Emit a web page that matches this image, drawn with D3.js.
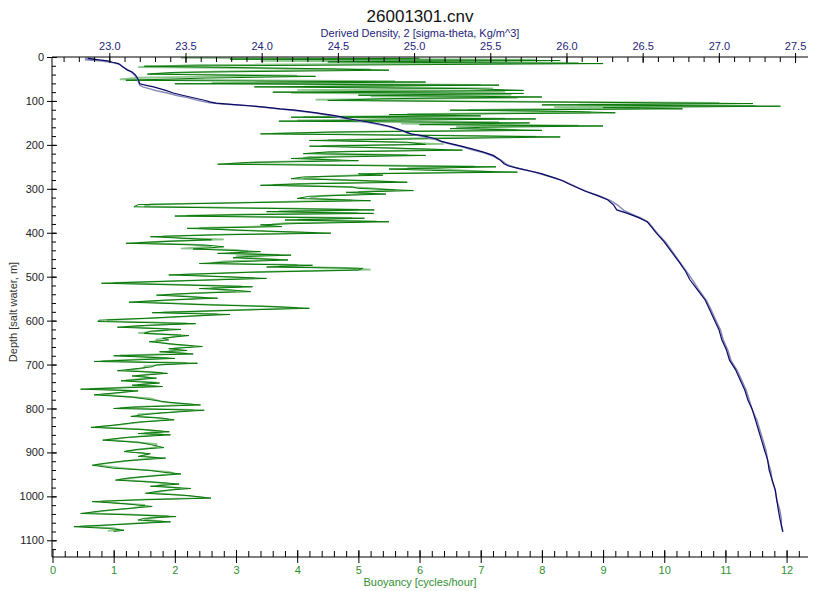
<!DOCTYPE html>
<html>
<head>
<meta charset="utf-8">
<script src="https://cdn.jsdelivr.net/npm/d3@7"></script>
<style>
  body { margin: 0; background: #fff; }
  svg { display: block; font-family: "Liberation Sans", Arial, sans-serif; }
</style>
</head>
<body>
<svg id="chart" width="813" height="591"></svg>
<script>
// ---- data: [depth m, value] ----
var buoyancyPrimary = [
  [3,6.0],[5,2.9],[8,8.3],[11,4.5],[15,9.0],[21,1.5],[27,4.5],[30,5.5],[35,2.0],[39,1.55],
  [44,4.3],[48,2.5],[53,1.2],[57,6.1],[61,2.0],[64,7.3],[68,3.3],[72,6.8],[76,7.7],[80,3.6],
  [83,7.7],[87,5.0],[91,8.0],[95,5.4],[99,4.5],[103,8.7],[106,11.45],[109,8.0],[112,11.9],[115,9.0],
  [118,10.3],[121,6.5],[124,8.5],[127,9.2],[131,5.5],[134,7.0],[137,3.9],[141,7.9],[146,3.7],[150,7.8],
  [154,6.0],[157,9.0],[160,7.0],[163,6.5],[167,8.0],[171,4.5],[175,3.4],[179,6.5],[182,8.3],[186,6.2],
  [190,4.2],[194,5.8],[199,6.1],[203,4.2],[207,5.5],[212,6.7],[216,4.5],[220,4.1],[224,6.1],[228,4.5],
  [231,3.9],[236,5.0],[240,3.2],[244,2.7],[250,7.25],[255,5.5],[258,6.2],[262,7.6],[266,5.0],[269,5.4],
  [273,4.1],[277,3.9],[281,5.0],[285,5.8],[289,4.0],[292,3.4],[296,4.9],[299,5.0],[304,5.9],[308,4.8],
  [312,5.45],[317,4.2],[322,4.0],[327,5.2],[332,3.0],[336,1.4],[341,1.33],[345,3.8],[348,5.26],[352,3.5],
  [356,5.25],[359,3.0],[362,2.0],[367,5.1],[371,3.8],[375,5.5],[379,4.0],[382,3.4],[386,3.75],[390,2.2],
  [395,3.2],[401,4.55],[405,2.6],[409,1.6],[413,2.2],[416,2.6],[420,1.8],[424,1.2],[428,2.5],[432,2.8],
  [437,2.3],[440,2.9],[443,3.4],[447,2.7],[451,3.9],[454,3.2],[457,2.95],[462,3.85],[466,3.0],[470,2.4],
  [474,4.25],[478,3.5],[481,5.07],[485,5.0],[490,3.2],[496,1.9],[500,2.8],[504,3.5],[509,2.2],[515,0.8],
  [519,2.2],[523,3.27],[527,2.4],[530,2.9],[534,3.24],[538,2.2],[542,1.7],[549,2.7],[553,1.9],[558,1.25],
  [564,2.55],[568,3.6],[572,4.2],[577,2.8],[582,1.63],[586,2.9],[590,2.2],[595,1.5],[599,0.76],[602,0.74],
  [607,2.34],[611,1.5],[615,1.06],[620,2.1],[624,1.6],[629,1.5],[634,2.23],[640,1.8],[644,1.9],[648,1.58],
  [654,2.0],[659,2.45],[664,1.9],[668,2.2],[671,1.75],[676,2.3],[680,1.0],[686,2.0],[693,0.68],[697,2.37],
  [701,1.7],[705,1.63],[709,1.4],[714,1.06],[717,1.6],[720,1.88],[726,1.3],[731,1.7],[737,1.12],[742,1.75],
  [747,1.3],[750,1.8],[756,0.46],[760,1.4],[765,1.0],[769,0.68],[774,1.3],[778,1.5],[786,1.9],[792,2.42],
  [797,1.3],[800,1.0],[804,2.48],[810,1.8],[814,1.5],[818,1.28],[822,1.8],[826,1.99],[831,1.4],[838,1.0],
  [843,0.63],[848,1.5],[853,1.91],[857,1.4],[860,1.93],[866,1.2],[872,0.82],[877,1.4],[882,1.6],[889,1.82],
  [893,1.4],[898,1.17],[903,1.6],[909,1.4],[913,1.85],[919,1.2],[924,0.9],[929,0.65],[936,1.0],[941,1.6],
  [945,1.8],[949,2.10],[955,1.5],[959,1.2],[963,1.03],[968,1.7],[972,2.07],[977,1.6],[982,2.26],[987,1.8],
  [993,1.52],[998,2.2],[1004,2.59],[1008,1.4],[1012,0.65],[1017,1.2],[1020,1.4],[1023,1.63],[1028,1.2],[1033,0.8],
  [1039,0.46],[1042,1.3],[1046,2.02],[1050,1.5],[1054,1.4],[1058,1.93],[1063,1.2],[1066,0.8],[1069,0.35],[1073,0.9],
  [1077,1.17],[1080,1.0]
];

var buoyancySecondary = [
  [2,2.1],[6,7.9],[9,3.4],[13,8.6],[18,2.4],[23,1.4],[28,5.2],[33,2.6],[38,1.6],[42,4.0],
  [47,1.4],[51,1.1],[55,5.6],[59,2.6],[63,7.0],[67,4.1],[71,7.2],[75,4.0],[79,7.4],[82,3.9],
  [86,7.5],[90,5.2],[93,7.6],[97,4.3],[101,6.8],[104,10.9],[108,8.6],[111,11.5],[114,8.2],[117,9.6],
  [120,6.8],[123,7.9],[126,8.8],[130,5.8],[133,6.6],[136,4.1],[140,7.4],[144,4.0],[148,7.3],[152,5.7],
  [156,8.6],[159,6.6],[162,6.8],[166,7.6],[170,4.8],[174,3.6],[178,6.1],[181,7.9],[185,5.9],[189,4.5],
  [193,5.4],[198,6.4],[202,4.4],[206,5.2],[211,6.4],[215,4.8],[219,4.3],[223,5.8],[227,4.2],[230,4.1],
  [235,4.7],[239,3.4],[243,2.9],[249,6.9],[253,5.8],[257,6.5],[261,7.2],[265,5.3],[268,5.1],[272,4.4],
  [276,4.1],[280,4.8],[284,5.6],[288,4.2],[291,3.6],[295,4.7],[298,5.2],[303,5.6],[307,5.0],[311,5.2],
  [316,4.4],[321,4.2],[326,4.9],[331,3.2],[335,1.6],[340,1.5],[344,3.5],[347,5.0],[351,3.7],[355,5.0],
  [358,3.2],[361,2.2],[366,4.9],[370,4.0],[374,5.3],[378,3.8],[381,3.6],[385,3.5],[389,2.4],[394,3.0],
  [400,4.3],[404,2.8],[408,1.8],[412,2.1],[415,2.8],[419,1.9],[423,1.4],[427,2.3],[431,2.6],[436,2.1],
  [439,3.0],[442,3.2],[446,2.9],[450,3.7],[453,3.0],[456,3.1],[461,3.7],[465,2.8],[469,2.6],[473,4.0],
  [477,3.7],[480,4.8],[484,5.2],[489,3.4],[495,2.1],[499,2.6],[503,3.3],[508,2.4],[514,1.0],[518,2.0],
  [522,3.1],[526,2.6],[529,2.7],[533,3.0],[537,2.4],[541,1.9],[548,2.5],[552,2.1],[557,1.4],[563,2.4],
  [567,3.4],[571,4.0],[576,3.0],[581,1.8],[585,2.7],[589,2.4],[594,1.7],[598,0.9],[601,0.9],[606,2.2],
  [610,1.7],[614,1.2],[619,1.9],[623,1.8],[628,1.4],[633,2.1],[639,1.9],[643,1.7],[647,1.7],[653,1.9],
  [658,2.3],[663,2.0],[667,2.0],[670,1.9],[675,2.2],[679,1.1],[685,1.9],[692,0.8],[696,2.2],[700,1.8],
  [704,1.5],[708,1.5],[713,1.2],[716,1.5],[719,1.8],[725,1.4],[730,1.6],[736,1.2],[741,1.7],[746,1.4],
  [749,1.7],[755,0.6],[759,1.3],[764,1.1],[768,0.8],[773,1.2],[777,1.6],[785,1.8],[791,2.3],[796,1.4],
  [799,1.1],[803,2.3],[809,1.9],[813,1.4],[817,1.4],[821,1.7],[825,1.9],[830,1.5],[837,1.1],[842,0.7],
  [847,1.4],[852,1.8],[856,1.5],[859,1.8],[865,1.3],[871,0.9],[876,1.3],[881,1.7],[888,1.7],[892,1.5],
  [897,1.2],[902,1.5],[908,1.5],[912,1.7],[918,1.3],[923,1.0],[928,0.7],[935,1.1],[940,1.5],[944,1.9],
  [948,2.0],[954,1.6],[958,1.3],[962,1.1],[967,1.6],[971,1.9],[976,1.7],[981,2.1],[986,1.9],[992,1.6],
  [997,2.1],[1003,2.5],[1007,1.5],[1011,0.8],[1016,1.1],[1019,1.5],[1022,1.5],[1027,1.3],[1032,0.9],[1038,0.6],
  [1041,1.2],[1045,1.9],[1049,1.6],[1053,1.5],[1057,1.8],[1062,1.3],[1065,0.9],[1068,0.45],[1072,1.0],[1076,1.1],
  [1079,0.9]
];

var densityPrimary = [
  [3,22.86],[6,22.92],[9,22.99],[12,23.02],[15,23.06],[23,23.09],[30,23.12],[34,23.15],[40,23.17],[45,23.18],
  [52,23.19],[61,23.20],[65,23.25],[68,23.29],[72,23.33],[76,23.37],[82,23.42],[87,23.48],[91,23.53],[95,23.58],
  [99,23.63],[102,23.66],[105,23.70],[108,23.80],[111,23.92],[114,24.02],[118,24.12],[121,24.22],[127,24.36],[133,24.47],
  [137,24.53],[140,24.56],[144,24.63],[148,24.70],[153,24.78],[159,24.85],[167,24.92],[175,24.98],[180,25.07],[186,25.14],
  [192,25.18],[197,25.24],[203,25.31],[209,25.38],[216,25.45],[224,25.52],[233,25.56],[243,25.59],[248,25.62],[254,25.69],
  [260,25.77],[266,25.84],[274,25.91],[281,25.97],[288,26.01],[296,26.06],[305,26.12],[315,26.20],[325,26.27],[337,26.31],
  [348,26.33],[356,26.40],[365,26.47],[375,26.53],[388,26.56],[401,26.59],[420,26.64],[439,26.68],[453,26.71],[467,26.74],
  [487,26.78],[507,26.81],[530,26.86],[553,26.91],[575,26.94],[598,26.97],[620,27.00],[644,27.02],[667,27.05],[690,27.07],
  [712,27.11],[735,27.14],[758,27.17],[780,27.19],[803,27.22],[826,27.24],[849,27.26],[872,27.28],[895,27.30],[917,27.32],
  [940,27.33],[963,27.35],[985,27.37],[1008,27.38],[1030,27.39],[1050,27.40],[1065,27.41],[1081,27.42]
];

var densitySecondary = [
  [2,22.84],[4,22.90],[6,22.84],[9,22.95],[13,23.03],[17,23.07],[25,23.10],[33,23.14],[40,23.16],[47,23.18],
  [55,23.19],[64,23.20],[68,23.22],[72,23.26],[77,23.31],[82,23.38],[88,23.45],[93,23.52],[97,23.56],[101,23.61],
  [104,23.66],[107,23.74],[110,23.87],[113,23.98],[117,24.09],[121,24.20],[127,24.34],[133,24.45],[139,24.53],[143,24.60],
  [148,24.68],[153,24.76],[159,24.84],[167,24.91],[175,24.97],[181,25.06],[187,25.13],[193,25.18],[199,25.25],[205,25.32],
  [211,25.38],[218,25.46],[226,25.52],[235,25.57],[245,25.61],[251,25.66],[257,25.73],[263,25.80],[269,25.86],[276,25.93],
  [283,25.99],[290,26.03],[298,26.08],[307,26.14],[317,26.22],[327,26.29],[338,26.34],[350,26.38],[358,26.43],[367,26.49],
  [377,26.54],[390,26.57],[403,26.60],[421,26.65],[440,26.69],[455,26.72],[470,26.75],[489,26.79],[509,26.83],[531,26.87],
  [555,26.92],[576,26.95],[599,26.98],[621,27.01],[645,27.03],[668,27.06],[691,27.08],[713,27.12],[736,27.15],[759,27.18],
  [781,27.20],[804,27.22],[827,27.25],[850,27.27],[873,27.29],[896,27.31],[918,27.32],[941,27.34],[964,27.35],[986,27.37],
  [1009,27.38],[1031,27.40],[1051,27.41],[1066,27.41],[1080,27.42]
];

var depthTicks = d3.range(0, 1101, 100);
var buoyancyTicks = d3.range(0, 13, 1);
var densityTicks = [23.0, 23.5, 24.0, 24.5, 25.0, 25.5, 26.0, 26.5, 27.0, 27.5];

(function(){
  // ---- layout ----
  var svg = d3.select("#chart");
  var mLeft = 52, mRight = 808, mTop = 57, mBottom = 557;

  var y = d3.scaleLinear().domain([0, 1138]).range([mTop, mBottom]);
  var xB = d3.scaleLinear().domain([0, 12.35]).range([52.5, mRight]);
  var xD = d3.scaleLinear().domain([22.624, 27.585]).range([mLeft, mRight]);

  var navy = "#24247a", green = "#2f8f2f";

  // title + axis titles
  svg.append("text").attr("x", 420).attr("y", 22).attr("text-anchor", "middle")
    .style("font-size", "17px").attr("fill", "#111").text("26001301.cnv");
  svg.append("text").attr("x", 420).attr("y", 37).attr("text-anchor", "middle")
    .style("font-size", "11px").attr("fill", navy).text("Derived Density, 2 [sigma-theta, Kg/m^3]");
  svg.append("text").attr("x", 420).attr("y", 586).attr("text-anchor", "middle")
    .style("font-size", "11px").attr("fill", green).text("Buoyancy [cycles/hour]");
  svg.append("text").attr("transform", "translate(17,312) rotate(-90)").attr("text-anchor", "middle")
    .style("font-size", "11px").attr("fill", "#333").text("Depth [salt water, m]");

  // traces
  var lineB = d3.line().x(function(d){ return xB(d[1]); }).y(function(d){ return y(d[0]); });
  var lineD = d3.line().x(function(d){ return xD(d[1]); }).y(function(d){ return y(d[0]); });

  var g = svg.append("g");
  g.append("path").datum(buoyancySecondary).attr("d", lineB)
    .attr("fill", "none").attr("stroke", "#8cc48c").attr("stroke-width", 1.6);
  g.append("path").datum(buoyancyPrimary).attr("d", lineB)
    .attr("fill", "none").attr("stroke", "#087808").attr("stroke-width", 1);
  g.append("path").datum(densitySecondary).attr("d", lineD)
    .attr("fill", "none").attr("stroke", "#8a8ab8").attr("stroke-width", 1.5);
  g.append("path").datum(densityPrimary).attr("d", lineD)
    .attr("fill", "none").attr("stroke", "#0a0a66").attr("stroke-width", 1.2);

  // ---- axes ----
  function styleAxis(sel, color) {
    sel.select(".domain").attr("stroke", "#000");
    sel.selectAll(".tick line").attr("stroke", "#000");
    sel.selectAll(".tick text").attr("fill", color).style("font-size", "11px")
      .style("font-family", "'Liberation Sans', Arial, sans-serif");
  }

  // left: depth
  var minorDepth = d3.range(0, 1138, 20);
  var lm = svg.append("g").attr("transform", "translate(" + mLeft + ",0)")
    .call(d3.axisRight(y).tickValues(minorDepth).tickSize(4).tickFormat("").tickSizeOuter(0));
  lm.select(".domain").remove();
  lm.selectAll(".tick line").attr("stroke", "#000");
  var la = svg.append("g").attr("transform", "translate(" + mLeft + ",0)")
    .call(d3.axisLeft(y).tickValues(depthTicks).tickFormat(d3.format("d")).tickSize(5).tickPadding(3).tickSizeOuter(0));
  la.select(".domain").attr("d", "M0," + mTop + "V" + mBottom);
  la.selectAll(".tick line").attr("x2", -5).attr("x1", 5);
  styleAxis(la, "#222");

  // top: density
  var minorDensity = d3.range(22.7, 27.58, 0.1);
  var tm = svg.append("g").attr("transform", "translate(0," + mTop + ")")
    .call(d3.axisBottom(xD).tickValues(minorDensity).tickSize(5).tickFormat("").tickSizeOuter(0));
  tm.select(".domain").remove();
  tm.selectAll(".tick line").attr("stroke", "#000");
  var ta = svg.append("g").attr("transform", "translate(0," + mTop + ")")
    .call(d3.axisTop(xD).tickValues(densityTicks).tickFormat(d3.format(".1f")).tickSize(4).tickPadding(3).tickSizeOuter(0));
  ta.select(".domain").attr("d", "M" + mLeft + ",0H" + mRight);
  ta.selectAll(".tick line").attr("y1", 6).attr("y2", -4);
  styleAxis(ta, navy);

  // bottom: buoyancy
  var minorB = d3.range(0.2, 12.35, 0.2);
  var bm = svg.append("g").attr("transform", "translate(0," + mBottom + ")")
    .call(d3.axisTop(xB).tickValues(minorB).tickSize(6).tickFormat("").tickSizeOuter(0));
  bm.select(".domain").remove();
  bm.selectAll(".tick line").attr("stroke", "#000");
  var ba = svg.append("g").attr("transform", "translate(0," + mBottom + ")")
    .call(d3.axisBottom(xB).tickValues(buoyancyTicks).tickFormat(d3.format("d")).tickSize(6).tickPadding(3).tickSizeOuter(0));
  ba.select(".domain").attr("d", "M" + mLeft + ",0H" + mRight);
  ba.selectAll(".tick line").attr("y1", -7).attr("y2", 6);
  styleAxis(ba, green);
})();
</script>
</body>
</html>
